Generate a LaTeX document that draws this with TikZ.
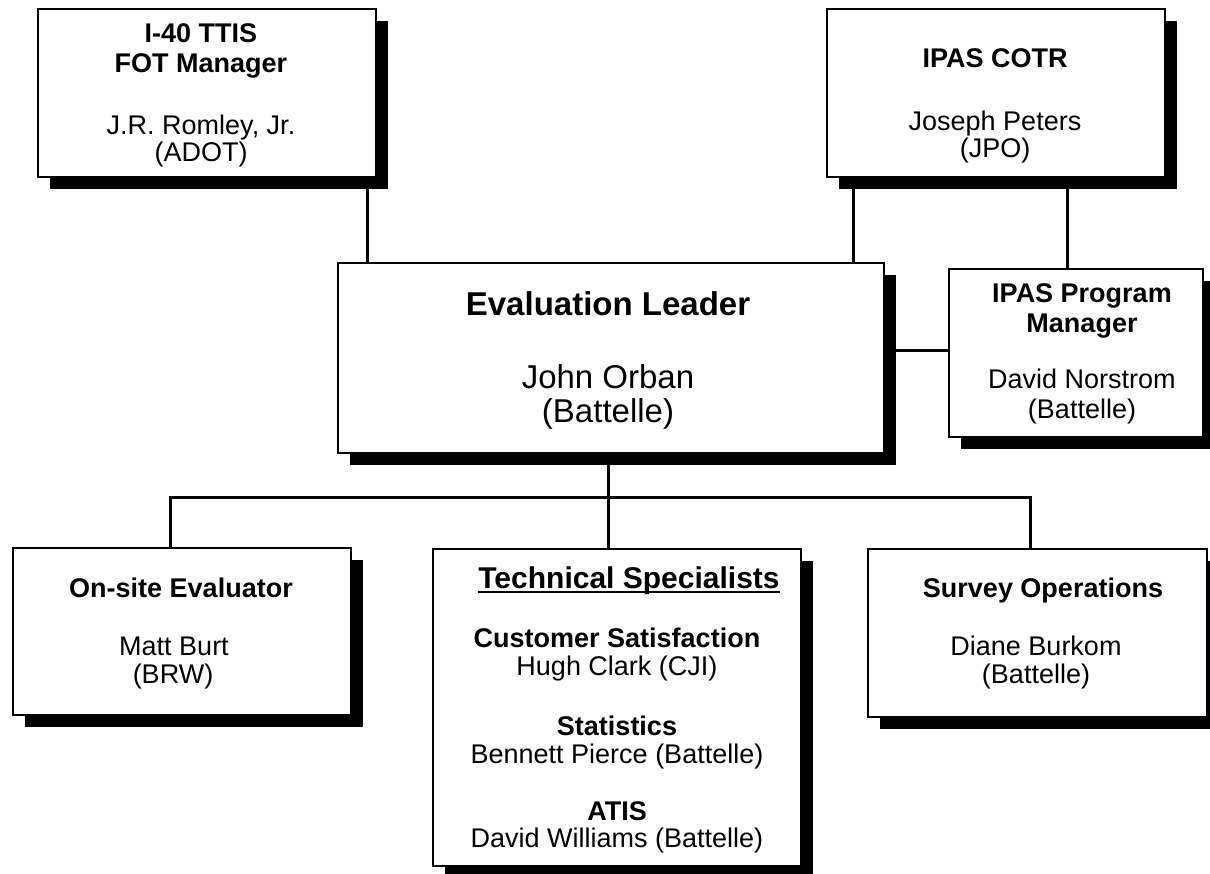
\documentclass[tikz,border=0pt]{standalone}
\usepackage{fontspec}
\setmainfont{Liberation Sans}
\begin{document}
\begin{tikzpicture}[x=1pt,y=-1pt,
  box/.style={draw, line width=2pt, fill=white, inner sep=0pt, anchor=north west},
  shbox/.style={fill=black, inner sep=0pt, anchor=north west},
  conn/.style={line width=3pt},
  hd/.style={anchor=base, inner sep=0pt, font=\fontsize{27}{30}\bfseries\selectfont},
  nm/.style={anchor=base, inner sep=0pt, font=\fontsize{27}{30}\selectfont},
  bhd/.style={anchor=base, inner sep=0pt, font=\fontsize{33}{36}\bfseries\selectfont},
  bnm/.style={anchor=base, inner sep=0pt, font=\fontsize{33}{36}\selectfont},
  thd/.style={anchor=base, inner sep=0pt, font=\fontsize{30}{33}\bfseries\selectfont}]
\path[use as bounding box] (0,0) rectangle (1210,873);
\clip (0,0) rectangle (1210,873);

% shadows
\node[shbox, minimum width=338pt, minimum height=168pt] (fots) at (50,21) {};
\node[shbox, minimum width=338pt, minimum height=168pt] (cotrs) at (839,21) {};
\node[shbox, minimum width=546pt, minimum height=190pt] (evals) at (350,275) {};
\node[shbox, minimum width=254pt, minimum height=168pt] (pms) at (961,281) {};
\node[shbox, minimum width=338pt, minimum height=167pt] (onsites) at (25,560) {};
\node[shbox, minimum width=368pt, minimum height=317pt] (techs) at (445,561) {};
\node[shbox, minimum width=339pt, minimum height=168pt] (surveys) at (880,561) {};

% boxes
\node[box, minimum width=338pt, minimum height=168pt] (fot) at (37,8) {};
\node[box, minimum width=338pt, minimum height=168pt] (cotr) at (826,8) {};
\node[box, minimum width=546pt, minimum height=190pt] (eval) at (337,262) {};
\node[box, minimum width=254pt, minimum height=168pt] (pm) at (948,268) {};
\node[box, minimum width=338pt, minimum height=167pt] (onsite) at (12,547) {};
\node[box, minimum width=368pt, minimum height=317pt] (tech) at (432,548) {};
\node[box, minimum width=339pt, minimum height=168pt] (survey) at (867,548) {};

% connectors
\coordinate (bj) at (608,497);
\draw[conn] (fots.south -| 367,0) -- (eval.north -| 367,0);
\draw[conn] (cotrs.south -| 853,0) -- (eval.north -| 853,0);
\draw[conn] (cotrs.south -| 1067,0) -- (pm.north -| 1067,0);
\draw[conn] (evals.east |- 0,350) -- (pm.west |- 0,350);
\draw[conn] (evals.south -| bj) -- (bj);
\draw[conn] (onsite.north -| 170,0) |- (bj) -| (survey.north -| 1030,0);
\draw[conn] (bj) -- (tech.north -| bj);

% texts
\node[hd] (fot1) at (201,42) {I-40 TTIS};
\node[hd] (fot2) at (201,72) {FOT Manager};
\node[nm] (fot3) at (201,134) {J.R. Romley, Jr.};
\node[nm] (fot4) at (201,161) {(ADOT)};

\node[hd] (cotr1) at (995,67) {IPAS COTR};
\node[nm] (cotr2) at (995,130) {Joseph Peters};
\node[nm] (cotr3) at (995,157) {(JPO)};

\node[bhd] (eval1) at (608,315) {Evaluation Leader};
\node[bnm] (eval2) at (608,388) {John Orban};
\node[bnm] (eval3) at (608,422) {(Battelle)};

\node[hd] (pm1) at (1082,302) {IPAS Program};
\node[hd] (pm2) at (1082,332) {Manager};
\node[nm] (pm3) at (1082,388) {David Norstrom};
\node[nm] (pm4) at (1082,418) {(Battelle)};

\node[hd] (on1) at (181,597) {On-site Evaluator};
\node[nm] (on2) at (174,655) {Matt Burt};
\node[nm] (on3) at (173,683) {(BRW)};

\node[hd] (sv1) at (1043,597) {Survey Operations};
\node[nm] (sv2) at (1036,655) {Diane Burkom};
\node[nm] (sv3) at (1036,683) {(Battelle)};

\node[thd] (ts0) at (629,588) {Technical Specialists};
\draw[line width=1.6pt] ([yshift=-4pt]ts0.base west) -- ([yshift=-4pt]ts0.base east);
\node[hd] (ts1) at (617,647) {Customer Satisfaction};
\node[nm] (ts2) at (617,675) {Hugh Clark (CJI)};
\node[hd] (ts3) at (617,735) {Statistics};
\node[nm] (ts4) at (617,763) {Bennett Pierce (Battelle)};
\node[hd] (ts5) at (617,820) {ATIS};
\node[nm] (ts6) at (617,847) {David Williams (Battelle)};
\end{tikzpicture}
\end{document}
